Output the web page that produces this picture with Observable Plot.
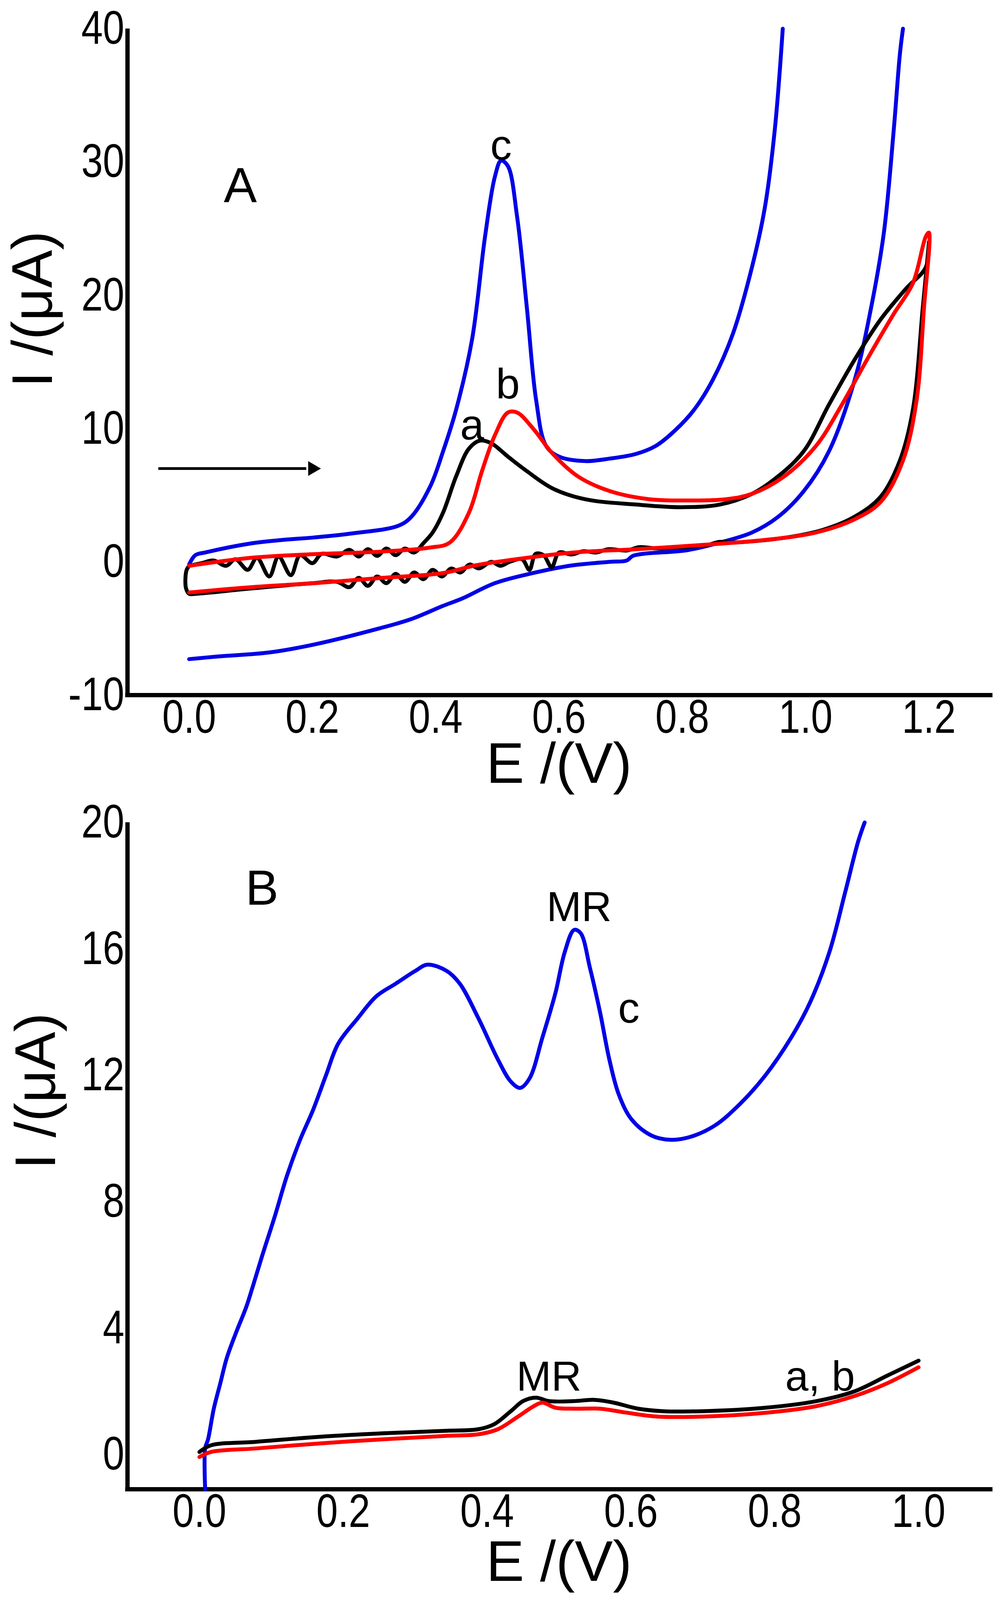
<!DOCTYPE html>
<html>
<head>
<meta charset="utf-8">
<script src="https://cdn.jsdelivr.net/npm/d3@7"></script>
<script src="https://cdn.jsdelivr.net/npm/@observablehq/plot@0.6"></script>
<style>
  html, body { margin: 0; background: #fff; overflow: hidden; }
  #chart svg, #chart2 svg { display: block; overflow: visible; }
</style>
</head>
<body>
<div id="chart"></div>
<div id="chart2"></div>
<script>
// ---- panel A : cyclic voltammograms ----
const aTicksX = [0, 0.2, 0.4, 0.6, 0.8, 1.0, 1.2];
const aTicksY = [-10, 0, 10, 20, 30, 40];

// curve a (black), forward then reverse scan
const aBlackE = [0.0, 0.02, 0.04, 0.06, 0.075, 0.095, 0.11, 0.13, 0.145, 0.165, 0.18, 0.2, 0.215, 0.24,
  0.26, 0.275, 0.29, 0.305, 0.32, 0.335, 0.35, 0.365, 0.38, 0.395, 0.412, 0.433, 0.454, 0.472, 0.49, 0.517,
  0.548, 0.59, 0.642, 0.725, 0.798, 0.861, 0.913, 0.955, 0.997, 1.038, 1.08, 1.122, 1.163, 1.195, 1.2,
  1.19, 1.174, 1.153, 1.122, 1.08, 1.028, 0.965, 0.882, 0.86, 0.84, 0.8, 0.76, 0.73, 0.71, 0.68, 0.66,
  0.64, 0.62, 0.6, 0.588, 0.575, 0.562, 0.552, 0.54, 0.52, 0.505, 0.49, 0.47, 0.455, 0.44, 0.425, 0.41,
  0.395, 0.38, 0.365, 0.35, 0.335, 0.32, 0.305, 0.29, 0.275, 0.26, 0.24, 0.2, 0.1, 0.01, 0.0,
  -0.005, -0.006, -0.004, 0.0];
const aBlackI = [-0.3, -0.1, 0.1, -0.3, 0.2, -0.6, 0.3, -1.1, 0.4, -1.0, 0.5, -0.1, 0.6, 0.4,
  0.9, 0.4, 0.95, 0.45, 1.0, 0.5, 1.0, 0.7, 1.4, 2.2, 3.7, 6.4, 8.5, 9.1, 8.9, 7.9,
  6.8, 5.5, 4.7, 4.3, 4.1, 4.3, 5.1, 6.4, 8.3, 11.8, 15.2, 18.2, 20.5, 22.1, 24.0,
  19.0, 11.4, 7.6, 4.9, 3.4, 2.4, 1.8, 1.45, 1.5, 1.25, 1.1, 1.0, 1.1, 0.85, 0.95, 0.7,
  0.8, 0.55, 0.7, -0.4, 0.5, 0.6, -0.6, 0.2, 0.0, -0.3, 0.0, -0.5, -0.2, -0.8, -0.5, -1.1,
  -0.6, -1.3, -0.8, -1.5, -0.9, -1.6, -1.1, -1.8, -1.2, -1.9, -1.5, -1.6, -2.0, -2.4, -2.4,
  -2.0, -1.2, -0.6, -0.3];

// curve b (red)
const aRedE = [0.0, 0.1, 0.2, 0.308, 0.391, 0.423, 0.454, 0.475, 0.496, 0.517, 0.532, 0.558, 0.59,
  0.631, 0.683, 0.746, 0.809, 0.871, 0.913, 0.965, 1.017, 1.059, 1.1, 1.143, 1.174, 1.195, 1.2,
  1.192, 1.18, 1.158, 1.122, 1.08, 1.017, 0.934, 0.83, 0.725, 0.621, 0.517, 0.464, 0.412, 0.308, 0.203,
  0.1, 0.0];
const aRedI = [-0.3, 0.3, 0.57, 0.76, 1.07, 1.45, 3.7, 6.8, 9.5, 11.2, 11.2, 10.0, 8.1,
  6.4, 5.3, 4.7, 4.6, 4.7, 5.1, 6.4, 8.7, 11.8, 15.2, 18.6, 20.9, 24.4, 24.7,
  19.0, 12.1, 7.6, 4.5, 3.2, 2.2, 1.64, 1.26, 0.95, 0.69, 0.11, -0.27, -0.84, -1.22, -1.6,
  -1.9, -2.3];

// curve c (blue): forward branch leaves the top, reverse branch comes back from it
const aBlueFwdE = [0.0, 0.01, 0.026, 0.099, 0.151, 0.203, 0.266, 0.339, 0.36, 0.391, 0.412, 0.433, 0.459,
  0.48, 0.496, 0.506, 0.517, 0.532, 0.548, 0.563, 0.579, 0.6, 0.642, 0.683, 0.725, 0.757, 0.788, 0.819,
  0.85, 0.882, 0.913, 0.934, 0.95, 0.963];
const aBlueFwdI = [-0.2, 0.5, 0.7, 1.37, 1.64, 1.83, 2.14, 2.7, 3.36, 5.65, 8.3, 11.4, 16.7,
  24.4, 28.9, 30.1, 29.7, 25.9, 19.0, 12.1, 8.7, 7.9, 7.56, 7.75, 8.1, 8.7, 9.85, 11.4,
  13.7, 17.1, 22.1, 26.6, 32.4, 40];
const aBlueRevE = [1.158, 1.153, 1.143, 1.127, 1.106, 1.08, 1.038, 0.997, 0.955, 0.913, 0.861, 0.809,
  0.72, 0.71, 0.683, 0.621, 0.558, 0.496, 0.443, 0.412, 0.36, 0.308, 0.203, 0.13, 0.047, 0.0];
const aBlueRevI = [40, 38.1, 32.4, 24.7, 19.0, 13.7, 8.3, 5.3, 3.36, 2.2, 1.45, 0.88,
  0.45, 0.1, 0.0, -0.27, -0.84, -1.6, -2.75, -3.3, -4.3, -5.0, -6.2, -6.8, -7.1, -7.3];

const arrowE = [-0.05, 0.19];
const arrowI = 7.0;

// ---- panel B : differential pulse voltammograms ----
const bTicksX = [0, 0.2, 0.4, 0.6, 0.8, 1.0];
const bTicksY = [0, 4, 8, 12, 16, 20];

const bBlueE = [0.008, 0.008, 0.012, 0.02, 0.029, 0.038, 0.051, 0.065, 0.074, 0.087, 0.105, 0.122, 0.14,
  0.158, 0.176, 0.193, 0.22, 0.246, 0.273, 0.3, 0.317, 0.344, 0.362, 0.388, 0.415, 0.433, 0.446, 0.459,
  0.477, 0.495, 0.508, 0.521, 0.53, 0.543, 0.557, 0.57, 0.583, 0.601, 0.628, 0.654, 0.681, 0.716, 0.752,
  0.787, 0.823, 0.849, 0.876, 0.898, 0.916, 0.925];
const bBlueI = [-1.1, 0.2, 0.48, 1.45, 2.25, 3.05, 3.86, 4.66, 5.3, 6.27, 7.55, 8.84, 9.96,
  10.9, 12.0, 13.0, 13.8, 14.5, 14.9, 15.3, 15.5, 15.3, 14.9, 13.8, 12.5, 11.8, 11.6, 11.9,
  13.2, 14.6, 15.9, 16.6, 16.5, 15.4, 14.0, 12.5, 11.4, 10.6, 10.1, 9.96, 10.04, 10.4, 11.1,
  12.0, 13.2, 14.3, 15.9, 17.8, 19.4, 20];

const bBlackE = [0.0, 0.016, 0.078, 0.167, 0.255, 0.344, 0.388, 0.41, 0.433, 0.45, 0.468, 0.486, 0.521,
  0.548, 0.574, 0.61, 0.645, 0.699, 0.787, 0.858, 0.911, 0.956, 1.0];
const bBlackI = [0.08, 0.29, 0.4, 0.56, 0.67, 0.75, 0.8, 0.96, 1.37, 1.69, 1.8, 1.69, 1.69,
  1.73, 1.65, 1.45, 1.37, 1.37, 1.48, 1.69, 2.0, 2.49, 2.97];

const bRedE = [0.0, 0.016, 0.078, 0.167, 0.255, 0.344, 0.388, 0.415, 0.443, 0.465, 0.477, 0.495, 0.521,
  0.557, 0.592, 0.637, 0.699, 0.787, 0.858, 0.911, 0.956, 1.0];
const bRedI = [-0.08, 0.08, 0.19, 0.35, 0.48, 0.59, 0.64, 0.8, 1.2, 1.53, 1.64, 1.48, 1.45,
  1.45, 1.33, 1.2, 1.2, 1.32, 1.53, 1.85, 2.25, 2.76];

// ---- build tables ----
const table = (E, I) => E.map((e, i) => ({E: e, I: I[i]}));

const arial = "'Liberation Sans', Arial, sans-serif";
const W = 2548;
const blue = "#0000e6";
const red = "#ff0000";
const lw = 10;

// the layout was measured on a 4277px tall page; fit it to the visible window height
const SY = Math.min(1, (window.innerHeight || 4277) / 4277);
const s = v => Math.round(v * SY);

function frame(xd, yd, xt, yt, lab) {
  return [
    Plot.axisX({ticks: xt, tickSize: 0, tickPadding: s(12), fontSize: s(126),
      tickFormat: d3.format(".1f"), label: null}),
    Plot.axisY({ticks: yt, tickSize: 0, tickPadding: 8, fontSize: s(126),
      tickFormat: d => String(d), label: null}),
    Plot.ruleX([xd[0]], {strokeWidth: 11}),
    Plot.ruleY([yd[0]], {strokeWidth: 11, strokeLinecap: "square"}),
    Plot.text(["I /(\u03bcA)"], {frameAnchor: "left", textAnchor: "middle", lineAnchor: "middle",
      dx: lab.dx, dy: s(lab.dy), rotate: -90, fontSize: s(152)}),
    Plot.text(["E /(V)"], {frameAnchor: "bottom", textAnchor: "middle", lineAnchor: "middle",
      dy: s(lab.ex), fontSize: s(152)})
  ];
}

// tick labels in the original are a narrow face: squeeze them horizontally
function narrowTicks(svg) {
  d3.select(svg).selectAll("g[aria-label$='tick label'] text").each(function() {
    const t = this.getAttribute("transform") || "";
    this.setAttribute("transform", t + " scale(0.82,1)");
  });
  return svg;
}

const xA = [-0.1, 1.3], yA = [-10, 40];
const chartA = Plot.plot({
  width: W, height: s(2122),
  marginTop: s(76), marginBottom: s(264), marginLeft: 326, marginRight: 12,
  x: {domain: xA}, y: {domain: yA},
  style: {background: "white", fontFamily: arial},
  marks: [
    ...frame(xA, yA, aTicksX, aTicksY, {dx: -240, dy: -141, ex: 186}),
    Plot.line(table(aBlueFwdE, aBlueFwdI), {x: "E", y: "I", stroke: blue, strokeWidth: lw, curve: "catmull-rom"}),
    Plot.line(table(aBlueRevE, aBlueRevI), {x: "E", y: "I", stroke: blue, strokeWidth: lw, curve: "catmull-rom"}),
    Plot.line(table(aBlackE, aBlackI), {x: "E", y: "I", stroke: "black", strokeWidth: lw, curve: "catmull-rom"}),
    Plot.line(table(aRedE, aRedI), {x: "E", y: "I", stroke: red, strokeWidth: lw, curve: "catmull-rom"}),
    Plot.link([0], {x1: arrowE[0], x2: arrowE[1], y1: arrowI, y2: arrowI, stroke: "black", strokeWidth: 7}),
    Plot.dot([0], {x: arrowE[1] + 0.01, y: arrowI, symbol: "triangle", rotate: 90, r: 14, fill: "black"}),
    Plot.text(["A"], {x: 0.083, y: 28.2, fontSize: s(133)}),
    Plot.text(["c"], {x: 0.506, y: 31.2, fontSize: s(115)}),
    Plot.text(["b"], {x: 0.517, y: 13.3, fontSize: s(115)}),
    Plot.text(["a"], {x: 0.459, y: 10.2, fontSize: s(115)})
  ]
});

const xB = [-0.1, 1.1], yB = [-1.1, 20];
const chartB = Plot.plot({
  width: W, height: s(4277) - s(2122),
  marginTop: s(76), marginBottom: s(297), marginLeft: 326, marginRight: 12,
  x: {domain: xB}, y: {domain: yB},
  style: {background: "white", fontFamily: arial},
  marks: [
    ...frame(xB, yB, bTicksX, bTicksY, {dx: -232, dy: -173, ex: 196}),
    Plot.line(table(bBlueE, bBlueI), {x: "E", y: "I", stroke: blue, strokeWidth: lw, curve: "catmull-rom"}),
    Plot.line(table(bBlackE, bBlackI), {x: "E", y: "I", stroke: "black", strokeWidth: lw, curve: "catmull-rom"}),
    Plot.line(table(bRedE, bRedI), {x: "E", y: "I", stroke: red, strokeWidth: lw, curve: "catmull-rom"}),
    Plot.text(["B"], {x: 0.087, y: 17.9, fontSize: s(133)}),
    Plot.text(["MR"], {x: 0.528, y: 17.3, fontSize: s(112)}),
    Plot.text(["c"], {x: 0.597, y: 14.1, fontSize: s(115)}),
    Plot.text(["MR"], {x: 0.486, y: 2.45, fontSize: s(112)}),
    Plot.text(["a, b"], {x: 0.863, y: 2.45, fontSize: s(112)})
  ]
});

d3.select("#chart").append(() => narrowTicks(chartA));
d3.select("#chart2").append(() => narrowTicks(chartB));
</script>
</body>
</html>
